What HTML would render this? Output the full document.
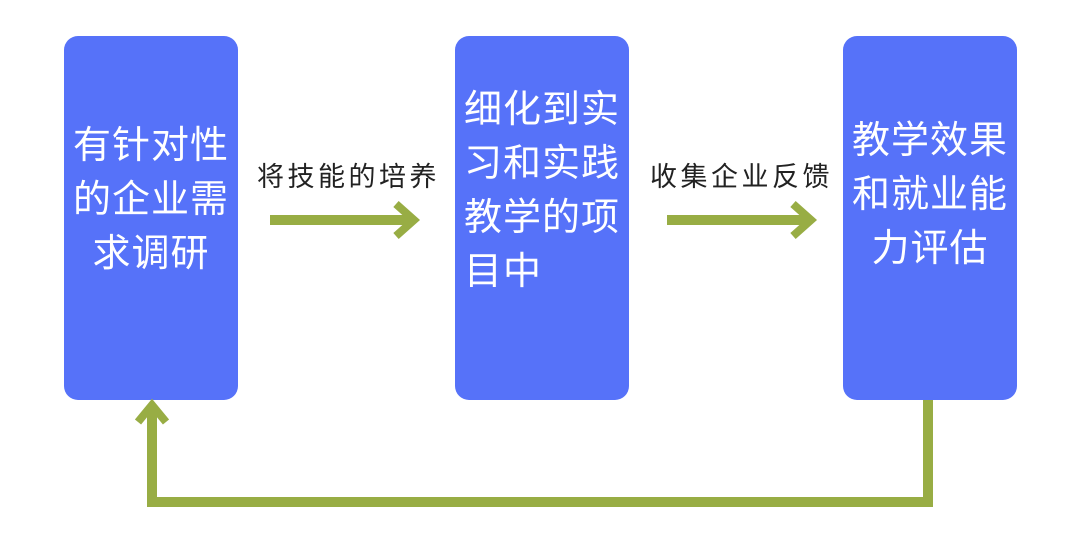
<!DOCTYPE html>
<html><head><meta charset="utf-8"><style>
body{margin:0;width:1080px;height:550px;background:#fff;position:relative;overflow:hidden;font-family:"Liberation Sans","Noto Sans CJK SC",sans-serif}
.box{position:absolute;top:36px;width:174px;height:364px;background:#5672f9;border-radius:14px;color:#fff;font-size:38px;letter-spacing:1px;line-height:54px;box-sizing:border-box;padding:0 8px;text-align:center;display:flex;align-items:center;justify-content:center}
.lbl{position:absolute;font-size:27px;letter-spacing:3.5px;color:#222;top:155px;white-space:nowrap}
svg{position:absolute;left:0;top:0}
</style></head><body>
<div class="box" style="left:64px;padding-bottom:36px"><div>有针对性<br>的企业需<br>求调研</div></div>
<div class="box" style="left:455px;padding-bottom:54px"><div style="text-align:left">细化到实<br>习和实践<br>教学的项<br>目中</div></div>
<div class="box" style="left:843px;padding-bottom:46px"><div>教学效果<br>和就业能<br>力评估</div></div>
<div class="lbl" style="left:257px">将技能的培养</div>
<div class="lbl" style="left:650px">收集企业反馈</div>
<svg width="1080" height="550">
<g stroke="#98ad44" stroke-width="10" fill="none">
<line x1="270" y1="220" x2="412" y2="220"/>
<polyline points="396,204 414,220 396,236" stroke-width="8"/>
<line x1="667" y1="220" x2="809" y2="220"/>
<polyline points="793,204 811,220 793,236" stroke-width="8"/>
<polyline points="928,400 928,502 152,502 152,406"/>
<polyline points="138,422 152,405 166,422" stroke-width="8"/>
</g>
</svg>
</body></html>
